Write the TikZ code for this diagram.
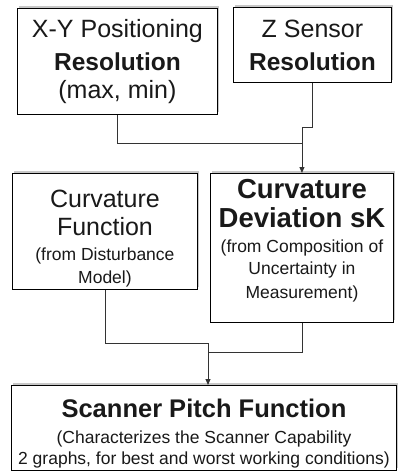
\documentclass[tikz,border=0pt]{standalone}
\usepackage{fontspec}
\setmainfont{Liberation Sans}
\usetikzlibrary{arrows.meta}
\begin{document}
\begin{tikzpicture}[x=1pt,y=-1pt,
  box/.style={draw=black,line width=0.9pt,fill=white,inner sep=0pt,anchor=north west},
  shade/.style={fill=black!22,draw=none},
  conn/.style={draw=black!80,line width=0.9pt},
  arr/.style={conn,-{Triangle[length=6pt,width=5pt]}},
  tx/.style={anchor=base,inner sep=0pt,text=black!90},
  big/.style={font=\fontsize{25}{25}\selectfont},
  bigb/.style={font=\fontsize{24.5}{25}\selectfont\bfseries},
  small/.style={font=\fontsize{17.5}{18}\selectfont}]
\useasboundingbox (0,0) rectangle (397,471);
% shadows
\fill[shade] (19,6) rectangle (219,112);
\fill[shade] (235,5) rectangle (393,80);
\fill[shade] (14,171) rectangle (199,287);
\fill[shade] (212,171) rectangle (395,320);
\fill[shade] (13,383) rectangle (398,468);
% boxes
\node[box,minimum width=200pt,minimum height=106pt] (b1) at (17,8) {};
\node[box,minimum width=158pt,minimum height=75pt] (b2) at (233,7) {};
\node[box,minimum width=185pt,minimum height=116pt] (b3) at (12,173) {};
\node[box,minimum width=183pt,minimum height=149pt] (b4) at (210,173) {};
\node[box,minimum width=385pt,minimum height=85pt] (b5) at (11,385) {};
% texts
\node[tx,big] (t11) at (b1.north |- 0,37) {X-Y Positioning};
\node[tx,bigb] (t12) at (b1.north |- 0,70) {Resolution};
\node[tx,big] (t13) at (b1.north |- 0,98) {(max, min)};
\node[tx,big] (t21) at (b2.north |- 0,37) {Z Sensor};
\node[tx,bigb] (t22) at (b2.north |- 0,70) {Resolution};
\node[tx,big] (t31) at (b3.north |- 0,207) {Curvature};
\node[tx,big] (t32) at (b3.north |- 0,235) {Function};
\node[tx,small] (t33) at (b3.north |- 0,260) {(from Disturbance};
\node[tx,small] (t34) at (b3.north |- 0,283) {Model)};
\node[tx,font=\fontsize{27.5}{28}\selectfont\bfseries] (t41) at (b4.north |- 0,198) {Curvature};
\node[tx,font=\fontsize{27.5}{28}\selectfont\bfseries] (t42) at (b4.north |- 0,227) {Deviation sK};
\node[tx,small] (t43) at (b4.north |- 0,252) {(from Composition of};
\node[tx,small] (t44) at (b4.north |- 0,274) {Uncertainty in};
\node[tx,small] (t45) at (b4.north |- 0,298) {Measurement)};
\node[tx,font=\fontsize{25.5}{26}\selectfont\bfseries] (t51) at (b5.north |- 0,417) {Scanner Pitch Function};
\node[tx,small] (t52) at (b5.north |- 0,443) {(Characterizes the Scanner Capability};
\node[tx,small] (t53) at (b5.north |- 0,464) {2 graphs, for best and worst working conditions)};
% connectors
\coordinate (j2) at (b4.north |- 0,127);
\coordinate (j1) at (b4.north |- 0,143);
\coordinate (k1) at (208,343);
\coordinate (k2) at (208,352);
\draw[conn] (b1.south) |- (j1);
\draw[conn] (b2.south) |- (j2);
\draw[arr] (j2) -- (b4.north);
\draw[conn] (b3.south) |- (k1);
\draw[conn] (b4.south) |- (k2);
\draw[arr] (k1) -- (k1 |- b5.north);
\end{tikzpicture}
\end{document}
